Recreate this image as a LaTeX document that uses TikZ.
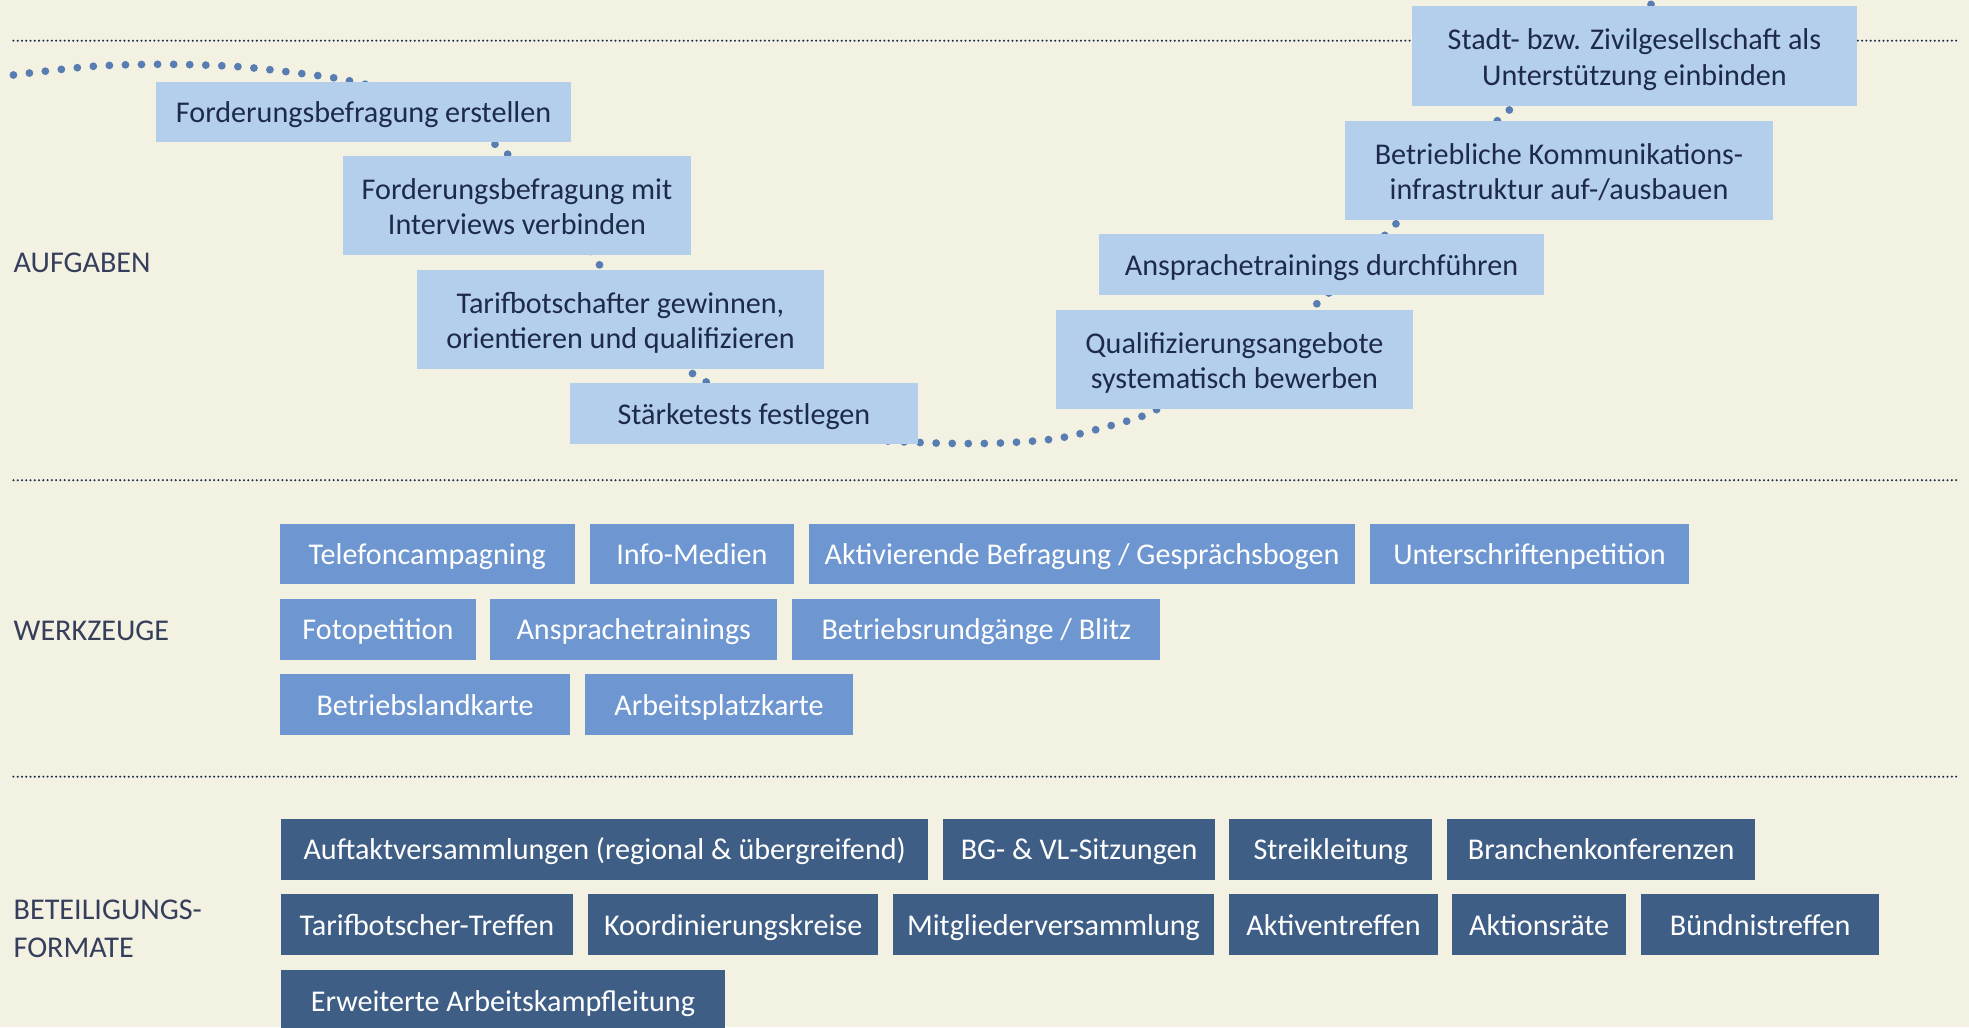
\documentclass[tikz,border=0pt]{standalone}
\usepackage{fontspec}
\setmainfont{Carlito}

\definecolor{creme}{HTML}{F3F1E1}
\definecolor{hellblau}{HTML}{B4CFEC}
\definecolor{mittelblau}{HTML}{6E96D0}
\definecolor{dunkelblau}{HTML}{3F5E86}
\definecolor{nachtblau}{HTML}{1E2A4A}
\definecolor{punktblau}{HTML}{587DB2}

\begin{document}
\begin{tikzpicture}[x=1pt,y=-1pt,
  eins/.style={text height=20pt,text depth=3pt},
  zwei/.style={text height=48.5pt,text depth=1.5pt},
  aufgabe/.style={fill=hellblau,text=nachtblau,inner sep=0pt,align=center},
  werkzeug/.style={fill=mittelblau,text=white,inner sep=0pt,eins},
  format/.style={fill=dunkelblau,text=white,inner sep=0pt,eins},
  bereich/.style={anchor=west,text=nachtblau!90,inner sep=0pt,align=left},
  trenner/.style={draw=nachtblau,line width=1.8pt,line cap=round,dash pattern=on 0pt off 3.4pt},
  kurve/.style={draw=punktblau,line width=6.2pt,line cap=round,dash pattern=on 0pt off 12.8pt}]
\fontsize{24}{28.5}\selectfont
\newcommand\feld[7]{
\node[#1,minimum width={(#5-#3)*1pt},minimum height={(#6-#4)*1pt}] (#2) at ({(#3+#5)/2},{(#4+#6)/2}) {#7};
}
\useasboundingbox (0,0) rectangle (1568,818);
\fill[creme] (0,0) rectangle (1568,818);
\clip (0,0) rectangle (1568,818);

\path[trenner] (10.7,32.4) -- (1558,32.4);
\path[trenner] (10.7,382.4) -- (1558,382.4);
\path[trenner] (10.7,618.5) -- (1558,618.5);

\path[kurve] plot[smooth,tension=0.5] coordinates {
(10.7,59.7) (74,52.8) (132,51.2) (190,53.1) (241,58.7) (279,64.5) (340,81)
(397,117) (440,157) (476.8,210) (515,267) (557,301) (620,332) (680,348.4)
(735,352.5) (791,353) (843,349) (893,336.6) (917,328.1) (980,295) (1052,239)
(1107,183) (1150,139) (1198,91) (1260,41.5) (1317,2) (1345,-16)};

\node[bereich] (aufgaben) at (10.7,209.2) {AUFGABEN};
\node[bereich] (werkzeuge) at (10.7,502.3) {WERKZEUGE};
\node[bereich,font=\fontsize{24}{30}\selectfont] (formate) at (10.7,739.5) {BETEILIGUNGS-\\FORMATE};

\feld{aufgabe,eins}{a1}{124}{65}{455}{112.8}{Forderungsbefragung erstellen}
\feld{aufgabe,zwei}{a2}{273}{124.2}{550.3}{202.8}{Forderungsbefragung mit\\Interviews verbinden}
\feld{aufgabe,zwei}{a3}{332}{215}{656.2}{293.6}{Tarifbotschafter gewinnen,\\orientieren und qualifizieren}
\feld{aufgabe,eins}{a4}{453.8}{305}{731}{353.3}{Stärketests festlegen}
\feld{aufgabe,zwei}{a5}{841}{246.9}{1125}{325.4}{Qualifizierungsangebote\\systematisch bewerben}
\feld{aufgabe,eins}{a6}{875.2}{186.4}{1229.6}{234.7}{Ansprachetrainings durchführen}
\feld{aufgabe,zwei}{a7}{1071}{96.4}{1412}{175}{Betriebliche Kommunikations-\\infrastruktur auf-/ausbauen}
\feld{aufgabe,zwei}{a8}{1124.6}{5}{1478.6}{84.2}{Stadt- bzw. Zivilgesellschaft als\\Unterstützung einbinden}

\feld{werkzeug}{w1}{223}{417}{457.5}{464.8}{Telefoncampagning}
\feld{werkzeug}{w2}{470}{417}{632}{464.8}{Info-Medien}
\feld{werkzeug}{w3}{644.2}{417}{1079}{464.8}{Aktivierende Befragung / Gesprächsbogen}
\feld{werkzeug}{w4}{1091}{417}{1345}{464.8}{Unterschriftenpetition}
\feld{werkzeug}{w5}{223}{477}{379}{525.3}{Fotopetition}
\feld{werkzeug}{w6}{390.4}{477}{619}{525.3}{Ansprachetrainings}
\feld{werkzeug}{w7}{630.9}{477}{924}{525.3}{Betriebsrundgänge / Blitz}
\feld{werkzeug}{w8}{223}{537}{454}{585}{Betriebslandkarte}
\feld{werkzeug}{w9}{465.9}{537}{679.3}{585}{Arbeitsplatzkarte}

\feld{format}{f1}{224}{652}{739}{700.5}{Auftaktversammlungen (regional \& übergreifend)}
\feld{format}{f2}{751}{652}{967.8}{700.5}{BG- \& VL-Sitzungen}
\feld{format}{f3}{979}{652}{1140.5}{700.5}{Streikleitung}
\feld{format}{f4}{1152.4}{652}{1397.8}{700.5}{Branchenkonferenzen}
\feld{format}{f5}{224}{712}{456}{760.3}{Tarifbotscher-Treffen}
\feld{format}{f6}{468.3}{712}{699.4}{760.3}{Koordinierungskreise}
\feld{format}{f7}{711}{712}{966.8}{760.3}{Mitgliederversammlung}
\feld{format}{f8}{979}{712}{1145}{760.3}{Aktiventreffen}
\feld{format}{f9}{1156.3}{712}{1295}{760.3}{Aktionsräte}
\feld{format}{f10}{1307}{712}{1496.5}{760.3}{Bündnistreffen}
\feld{format}{f11}{224}{772.5}{577}{821}{Erweiterte Arbeitskampfleitung}
\end{tikzpicture}
\end{document}
